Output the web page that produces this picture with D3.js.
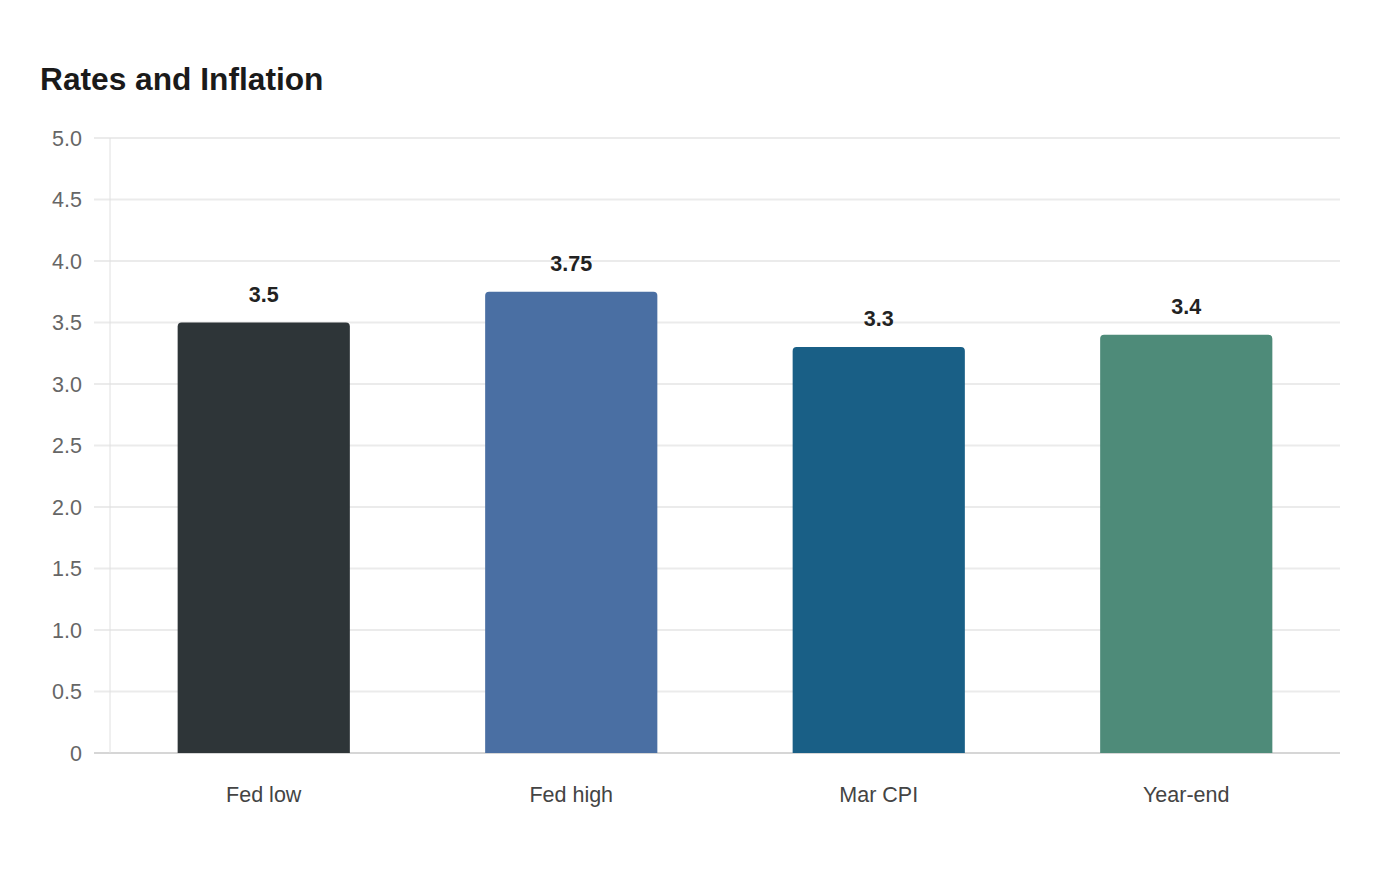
<!DOCTYPE html>
<html>
<head>
<meta charset="utf-8">
<script src="https://cdn.jsdelivr.net/npm/d3@7"></script>
<style>
  body { margin: 0; background: #fff; font-family: "Liberation Sans", Arial, sans-serif; }
</style>
</head>
<body>
<svg id="chart"></svg>
<script>
// data
const categories = ["Fed low", "Fed high", "Mar CPI", "Year-end"];
const values = [3.5, 3.75, 3.3, 3.4];
const barColors = ["#2e3538", "#4a6fa3", "#195f86", "#4e8b79"];
const yTicks = [0, 0.5, 1.0, 1.5, 2.0, 2.5, 3.0, 3.5, 4.0, 4.5, 5.0];

const width = 1400, height = 880;
const margin = { top: 138, right: 60, bottom: 127, left: 110 };

const svg = d3.select("#chart")
  .attr("width", width)
  .attr("height", height);

const x = d3.scaleBand()
  .domain(categories)
  .range([margin.left, width - margin.right])
  .paddingInner(0.44)
  .paddingOuter(0.22);

const y = d3.scaleLinear()
  .domain([0, 5])
  .range([height - margin.bottom, margin.top]);

// title
svg.append("text")
  .attr("x", 40)
  .attr("y", 90)
  .attr("font-size", 31.7)
  .attr("font-weight", "bold")
  .attr("fill", "#1a1a1a")
  .text("Rates and Inflation");

// gridlines
svg.append("g")
  .selectAll("line")
  .data(yTicks)
  .join("line")
    .attr("x1", margin.left - 16)
    .attr("x2", width - margin.right)
    .attr("y1", d => y(d))
    .attr("y2", d => y(d))
    .attr("stroke", d => d === 0 ? "#d6d6d6" : "#ebebeb")
    .attr("stroke-width", 2);

// y axis line
svg.append("line")
  .attr("x1", margin.left).attr("x2", margin.left)
  .attr("y1", y(5)).attr("y2", y(0))
  .attr("stroke", "#e0e0e0")
  .attr("stroke-width", 1);

// y tick labels
svg.append("g")
  .selectAll("text")
  .data(yTicks)
  .join("text")
    .attr("x", margin.left - 28)
    .attr("y", d => y(d))
    .attr("dy", "0.35em")
    .attr("text-anchor", "end")
    .attr("font-size", 21.5)
    .attr("fill", "#666")
    .text(d => d === 0 ? "0" : d3.format(".1f")(d));

// bars with rounded top corners
const r = 4;
function barPath(d, i) {
  const x0 = x(categories[i]), w = x.bandwidth();
  const y0 = y(d), y1 = y(0);
  return `M${x0},${y1} V${y0 + r} Q${x0},${y0} ${x0 + r},${y0} H${x0 + w - r} Q${x0 + w},${y0} ${x0 + w},${y0 + r} V${y1} Z`;
}

svg.append("g")
  .selectAll("path")
  .data(values)
  .join("path")
    .attr("d", (d, i) => barPath(d, i))
    .attr("fill", (d, i) => barColors[i]);

// value labels
svg.append("g")
  .selectAll("text")
  .data(values)
  .join("text")
    .attr("x", (d, i) => x(categories[i]) + x.bandwidth() / 2)
    .attr("y", d => y(d) - 21)
    .attr("text-anchor", "middle")
    .attr("font-size", 21.5)
    .attr("font-weight", "bold")
    .attr("fill", "#222")
    .text(d => d);

// x labels
svg.append("g")
  .selectAll("text")
  .data(categories)
  .join("text")
    .attr("x", d => x(d) + x.bandwidth() / 2)
    .attr("y", y(0) + 49)
    .attr("text-anchor", "middle")
    .attr("font-size", 21.5)
    .attr("fill", "#444")
    .text(d => d);
</script>
</body>
</html>
